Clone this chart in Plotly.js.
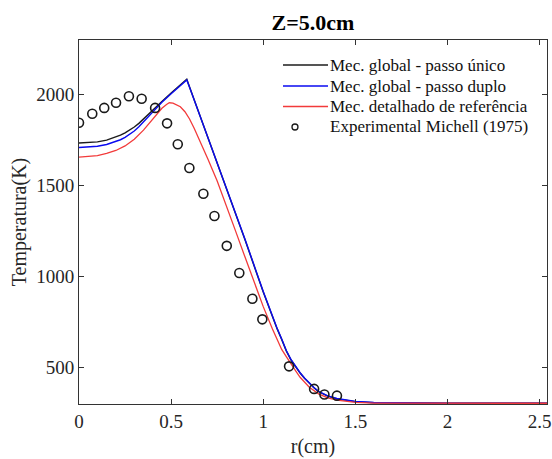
<!DOCTYPE html>
<html>
<head>
<meta charset="utf-8">
<script src="https://cdn.plot.ly/plotly-3.0.1.min.js"></script>
<style>html,body{margin:0;padding:0;background:#fff;}#chart{width:552px;height:459px;}</style>
</head>
<body>
<div id="chart"></div>
<script>
// r (cm) and temperature (K)
const rBlack = [0, 0.05, 0.1, 0.15, 0.2, 0.225, 0.25, 0.275, 0.3, 0.325, 0.35, 0.375, 0.4, 0.425, 0.45, 0.5, 0.55, 0.585, 0.6, 0.7, 0.8, 0.9, 1.0, 1.05, 1.075, 1.1, 1.125, 1.15, 1.175, 1.2, 1.225, 1.25, 1.275, 1.3, 1.35, 1.4, 1.45, 1.5, 1.6, 1.8, 2.0, 2.54];
const tBlack = [1734, 1735, 1740, 1750, 1766, 1777, 1790, 1805, 1822, 1842, 1865, 1889, 1915, 1939, 1962, 2009, 2055, 2084, 2042, 1765, 1485, 1205, 915, 775, 714, 655, 592, 543, 505, 470, 440, 413, 389, 368, 343, 328, 319, 313, 307, 305, 304, 304];
const rBlue = [0, 0.05, 0.1, 0.15, 0.2, 0.225, 0.25, 0.275, 0.3, 0.325, 0.35, 0.375, 0.4, 0.425, 0.45, 0.5, 0.55, 0.585, 0.6, 0.7, 0.8, 0.9, 1.0, 1.05, 1.075, 1.1, 1.125, 1.15, 1.175, 1.2, 1.225, 1.25, 1.275, 1.3, 1.35, 1.4, 1.45, 1.5, 1.6, 1.8, 2.0, 2.54];
const tBlue = [1709, 1711, 1716, 1726, 1741, 1752, 1765, 1781, 1800, 1823, 1850, 1878, 1908, 1934, 1958, 2005, 2050, 2080, 2040, 1766, 1488, 1208, 918, 778, 716, 657, 594, 545, 507, 472, 442, 415, 391, 370, 345, 330, 320, 314, 308, 305, 304, 304];
const rRed = [0, 0.05, 0.1, 0.15, 0.2, 0.25, 0.3, 0.35, 0.4, 0.425, 0.45, 0.475, 0.49, 0.51, 0.53, 0.55, 0.575, 0.6, 0.625, 0.65, 0.7, 0.75, 0.8, 0.85, 0.9, 0.95, 1.0, 1.05, 1.1, 1.125, 1.15, 1.175, 1.2, 1.25, 1.3, 1.35, 1.4, 1.45, 1.5, 1.6, 1.8, 2.0, 2.54];
const tRed = [1657, 1659, 1665, 1677, 1693, 1718, 1755, 1805, 1868, 1898, 1925, 1946, 1955, 1953, 1945, 1933, 1906, 1866, 1815, 1760, 1645, 1525, 1392, 1250, 1110, 970, 835, 712, 600, 560, 525, 483, 447, 392, 356, 334, 321, 314, 309, 305, 304, 304, 304];
const rExp = [0.0, 0.072, 0.137, 0.201, 0.271, 0.340, 0.413, 0.478, 0.536, 0.599, 0.675, 0.735, 0.802, 0.870, 0.941, 0.995, 1.140, 1.276, 1.332, 1.400];
const tExp = [1845, 1895, 1927, 1955, 1991, 1977, 1927, 1842, 1727, 1597, 1455, 1333, 1169, 1020, 878, 765, 507, 383, 352, 346];

const seriesNames = ['Mec. global - passo único', 'Mec. global - passo duplo', 'Mec. detalhado de referência', 'Experimental Michell (1975)'];
const seriesColors = ['#1c1c1c', '#0a0af0', '#f23a3a', '#1a1a1a'];
const xTickVals = [0, 0.5, 1, 1.5, 2, 2.5];
const xTickText = ['0', '0.5', '1', '1.5', '2', '2.5'];
const yTickVals = [500, 1000, 1500, 2000];
const yTickText = ['500', '1000', '1500', '2000'];

const serif = 'Liberation Serif, Times New Roman, serif';
const axisColor = '#333333';

const traces = [
  {x: rBlack, y: tBlack, mode: 'lines', name: seriesNames[0], line: {color: seriesColors[0], width: 1.4}},
  {x: rBlue, y: tBlue, mode: 'lines', name: seriesNames[1], line: {color: seriesColors[1], width: 1.4}},
  {x: rRed, y: tRed, mode: 'lines', name: seriesNames[2], line: {color: seriesColors[2], width: 1.3}},
  {x: rExp, y: tExp, mode: 'markers', name: seriesNames[3], marker: {symbol: 'circle-open', size: 9, color: seriesColors[3], line: {width: 1.6, color: seriesColors[3]}}}
];

// hand-placed legend (paper coordinates)
const legRowY = [0.9313, 0.8736, 0.8173, 0.7610];
const legLineX = [0.4359, 0.5321];
const legTextX = 0.5342;
const legMarkerX = 0.4615;
const shapes = [];
const annotations = [];
for (let i = 0; i < 4; i++) {
  if (i < 3) {
    shapes.push({type: 'line', xref: 'paper', yref: 'paper', x0: legLineX[0], x1: legLineX[1], y0: legRowY[i], y1: legRowY[i],
      line: {color: seriesColors[i], width: 1.4}});
  } else {
    shapes.push({type: 'circle', xref: 'paper', yref: 'paper', xsizemode: 'pixel', ysizemode: 'pixel',
      xanchor: legMarkerX, yanchor: legRowY[i], x0: -3, x1: 3, y0: -3, y1: 3,
      line: {color: seriesColors[i], width: 1.3}});
  }
  annotations.push({xref: 'paper', yref: 'paper', x: legTextX, y: legRowY[i], xanchor: 'left', yanchor: 'middle',
    text: seriesNames[i], showarrow: false, borderpad: 0, font: {family: serif, size: 17, color: '#111111'}});
}

const layout = {
  width: 552, height: 459,
  margin: {l: 79, r: 5, t: 40, b: 55, pad: 0},
  paper_bgcolor: '#ffffff', plot_bgcolor: '#ffffff',
  font: {family: serif, color: '#262626', size: 19},
  title: {text: '<b>Z=5.0cm</b>', font: {family: serif, size: 22, color: '#000000'}, xref: 'paper', x: 0.5, xanchor: 'center', y: 0.952, yanchor: 'middle'},
  xaxis: {
    range: [0, 2.54], tickmode: 'array', tickvals: xTickVals, ticktext: xTickText,
    ticks: 'inside', ticklen: 5, tickwidth: 1, tickcolor: axisColor,
    showline: true, linecolor: axisColor, linewidth: 1, mirror: 'ticks',
    showgrid: false, zeroline: false,
    tickfont: {family: serif, size: 19, color: '#262626'},
    title: {text: 'r(cm)', font: {family: serif, size: 20, color: '#262626'}, standoff: 8}
  },
  yaxis: {
    range: [300, 2300], tickmode: 'array', tickvals: yTickVals, ticktext: yTickText,
    ticks: 'inside', ticklen: 5, tickwidth: 1, tickcolor: axisColor,
    showline: true, linecolor: axisColor, linewidth: 1, mirror: 'ticks',
    showgrid: false, zeroline: false,
    tickfont: {family: serif, size: 19, color: '#262626'},
    title: {text: 'Temperatura(K)', font: {family: serif, size: 20, color: '#262626'}, standoff: 4}
  },
  showlegend: false,
  shapes: shapes,
  annotations: annotations
};

Plotly.newPlot('chart', traces, layout, {displayModeBar: false, staticPlot: true});
</script>
</body>
</html>
